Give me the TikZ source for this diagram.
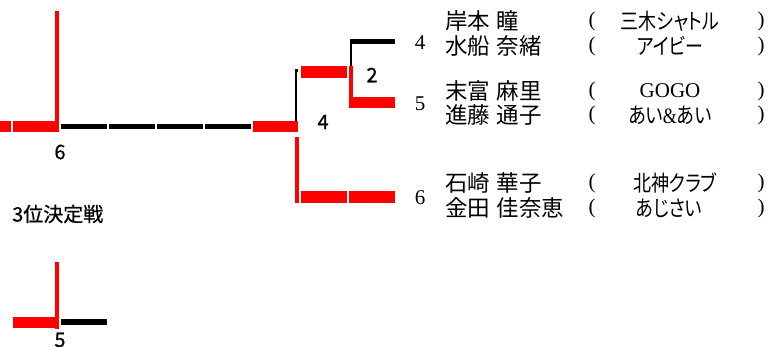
\documentclass[tikz,border=0pt]{standalone}
\usepackage{fontspec}
\usepackage{graphicx}
\setmainfont{Liberation Serif}
\newfontfamily\jp{Noto Sans CJK JP}
\newfontfamily\jpb[FakeBold=0.6]{Noto Sans CJK JP}
\newfontfamily\jpp[RawFeature=+palt]{Noto Sans CJK JP}
\newcommand\jsp{\hspace{0.3em}}
\newcommand\tm[1]{\scalebox{0.82}[1]{#1}}
\begin{document}
\begin{tikzpicture}[x=1pt,y=-1pt,
  redbar/.style={draw=red, line width=11.5pt},
  redv/.style={draw=red, line width=4pt},
  blackbar/.style={draw=black, line width=5.5pt},
  blackv/.style={draw=black, line width=1.8pt},
  numlab/.style={inner sep=0pt, font=\jpb\fontsize{20}{20}\selectfont},
  seednum/.style={inner sep=0pt, font=\fontsize{21}{21}\selectfont},
  player/.style={inner sep=0pt, anchor=west, font=\jp\fontsize{22.5}{22.5}\selectfont},
  team/.style={inner sep=0pt, font=\jpp\fontsize{22}{22}\selectfont},
  paren/.style={inner sep=0pt, font=\fontsize{21}{21}\selectfont},
  title/.style={inner sep=0pt, anchor=west, font=\jpb\fontsize{20}{20}\selectfont}
]
\useasboundingbox (0,0) rectangle (778,347);

% ---- final (left) ----
\draw[redbar] (0,126.5) -- (11,126.5);
\draw[redbar] (13,126.5) -- (55,126.5);
\draw[redv] (57,11) -- (57,132.25);
\draw[blackbar] (61,126.5) -- (107,126.5);
\draw[blackbar] (109,126.5) -- (155,126.5);
\draw[blackbar] (157,126.5) -- (203,126.5);
\draw[blackbar] (205,126.5) -- (251,126.5);
\draw[redbar] (253,126.5) -- (298,126.5);

% ---- semifinal ----
\draw[blackv] (296,121) -- (296,69.5);
\draw[black, line width=3pt] (295,70.5) -- (298,70.5);
\draw[redv] (297,137) -- (297,203);
\draw[redbar] (301,197) -- (347,197);
\draw[redbar] (349,197) -- (395,197);

% ---- quarter ----
\draw[redbar] (301,72) -- (347,72);
\draw[blackv] (351,66) -- (351,39);
\draw[blackbar] (350,41.5) -- (395,41.5);
\draw[redv] (351,66) -- (351,108);
\draw[redbar] (349,102.5) -- (395,102.5);

% ---- scores ----
\node[numlab] (s6) at (60,152) {6};
\node[numlab] (s4) at (323,122) {4};
\node[numlab] (s2) at (372,75) {2};

% ---- seeds ----
\node[seednum] (n4) at (420,43) {4};
\node[seednum] (n5) at (420,104) {5};
\node[seednum] (n6) at (420,198) {6};

% ---- players ----
\node[player] (p1) at (445,21) {岸本\jsp 瞳};
\node[player] (p2) at (445,46) {水船\jsp 奈緒};
\node[player] (p3) at (445,91) {末富\jsp 麻里};
\node[player] (p4) at (445,115) {進藤\jsp 通子};
\node[player] (p5) at (445,183) {石崎\jsp 華子};
\node[player] (p6) at (445,208) {金田\jsp 佳奈恵};

\foreach \yy/\nm in {21/a,46/b,91/c,115/d,183/e,208/f}{
  \node[paren] (lp\nm) at (592,\yy) {(};
  \node[paren] (rp\nm) at (761,\yy) {)};
}
\node[team] (t1) at (670,21) {\tm{三木シャトル}};
\node[team] (t2) at (670,46) {\tm{アイビー}};
\node[team] (t3) at (670,91) {\fontspec{Liberation Serif}\fontsize{21}{21}\selectfont GOGO};
\node[team] (t4) at (670,115) {\tm{あい{\fontspec{Liberation Serif}\&}あい}};
\node[team] (t5) at (675,183) {\tm{北神クラブ}};
\node[team] (t6) at (669,208) {\tm{あじさい}};

% ---- third place ----
\node[title] (ttl) at (12,214) {3位決定戦};
\draw[redv] (57,262) -- (57,328.5);
\draw[redbar] (13,322.5) -- (55,322.5);
\draw[blackbar] (61,322) -- (107,322);
\node[numlab] (s5) at (60,340) {5};
\end{tikzpicture}
\end{document}
